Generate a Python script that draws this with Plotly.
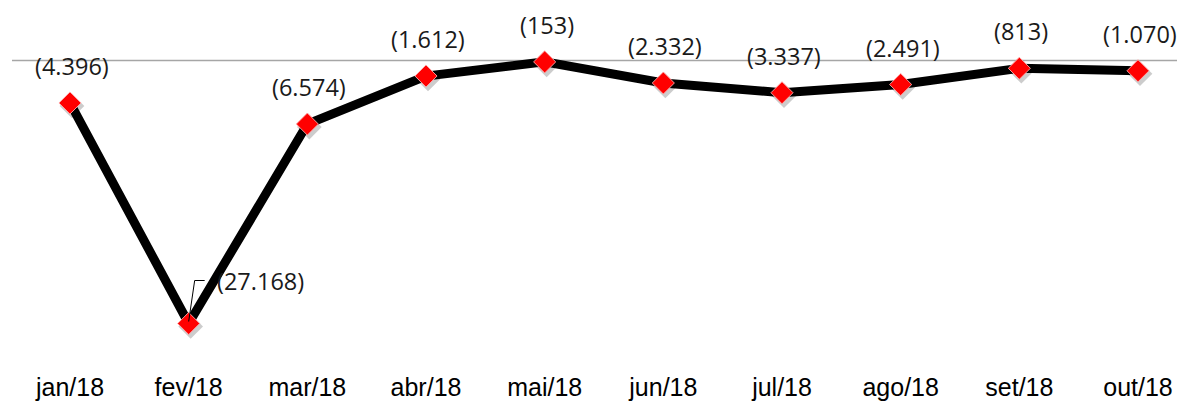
import plotly.graph_objects as go

months = ["jan/18", "fev/18", "mar/18", "abr/18", "mai/18",
          "jun/18", "jul/18", "ago/18", "set/18", "out/18"]
values = [-4396, -27168, -6574, -1612, -153, -2332, -3337, -2491, -813, -1070]
labels = ["(4.396)", "(27.168)", "(6.574)", "(1.612)", "(153)",
          "(2.332)", "(3.337)", "(2.491)", "(813)", "(1.070)"]

# the page body has an 8px margin, so the figure is sized to fill the rest of the window
W, H = 1177, 393
PLOT_H = 364
fig = go.Figure()

xr = [-0.5225, 9.396]
yr = [-31764, 5413]
px_x = W / (xr[1] - xr[0])
px_y = PLOT_H / (yr[1] - yr[0])
# shadow axes (base, drawn underneath): offset by 2px right, 3px down
xr_sh = [xr[0] - 2 / px_x, xr[1] - 2 / px_x]
yr_sh = [yr[0] + 3 / px_y, yr[1] + 3 / px_y]

fig.add_trace(go.Scatter(
    x=months, y=values, mode="markers", xaxis="x", yaxis="y",
    marker=dict(symbol="diamond", size=19, color="rgba(0,0,0,0.2)", line=dict(width=0)),
    hoverinfo="skip", showlegend=False))

fig.add_trace(go.Scatter(
    x=months, y=values, mode="lines+markers", xaxis="x2", yaxis="y2",
    line=dict(color="black", width=9),
    marker=dict(symbol="diamond", size=17, color="#FF0000",
                line=dict(color="rgba(255,170,170,0.9)", width=1)),
    showlegend=False))

for i, (m, v, t) in enumerate(zip(months, values, labels)):
    if i == 1:
        fig.add_annotation(x=m, y=v, xref="x2", yref="y2", text=t, showarrow=False,
                           xshift=72, yshift=43,
                           font=dict(family="Open Sans", size=23.5, color="#1a1a1a"))
    else:
        fig.add_annotation(x=m, y=v, xref="x2", yref="y2", text=t, showarrow=False,
                           xshift=2, yshift=37,
                           font=dict(family="Open Sans", size=23.5, color="#1a1a1a"))

# leader line for the fev/18 label
fig.add_shape(type="path", xref="x2", yref="y2", xsizemode="pixel", ysizemode="pixel",
              xanchor=months[1], yanchor=values[1],
              path="M 0,2 L 6,43 L 16,43", line=dict(color="black", width=1))

# zero line
fig.add_shape(type="line", xref="paper", yref="y2", x0=4 / W, x1=1170 / W, y0=0, y1=0,
              line=dict(color="#A6A6A6", width=1.5), layer="below")

fig.update_layout(
    width=W, height=H,
    margin=dict(l=0, r=0, t=0, b=H - PLOT_H),
    paper_bgcolor="white", plot_bgcolor="white",
    xaxis=dict(type="category", range=xr_sh, visible=False),
    yaxis=dict(range=yr_sh, visible=False),
    xaxis2=dict(type="category", range=xr, overlaying="x", anchor="y2", side="bottom",
                showgrid=False, zeroline=False, showline=False, ticks="",
                ticklabelstandoff=2,
                tickfont=dict(family="Liberation Sans", size=25, color="black")),
    yaxis2=dict(range=yr, overlaying="y", anchor="x2", showgrid=False, zeroline=False,
                showticklabels=False, showline=False),
)

fig.write_html("out.html")
